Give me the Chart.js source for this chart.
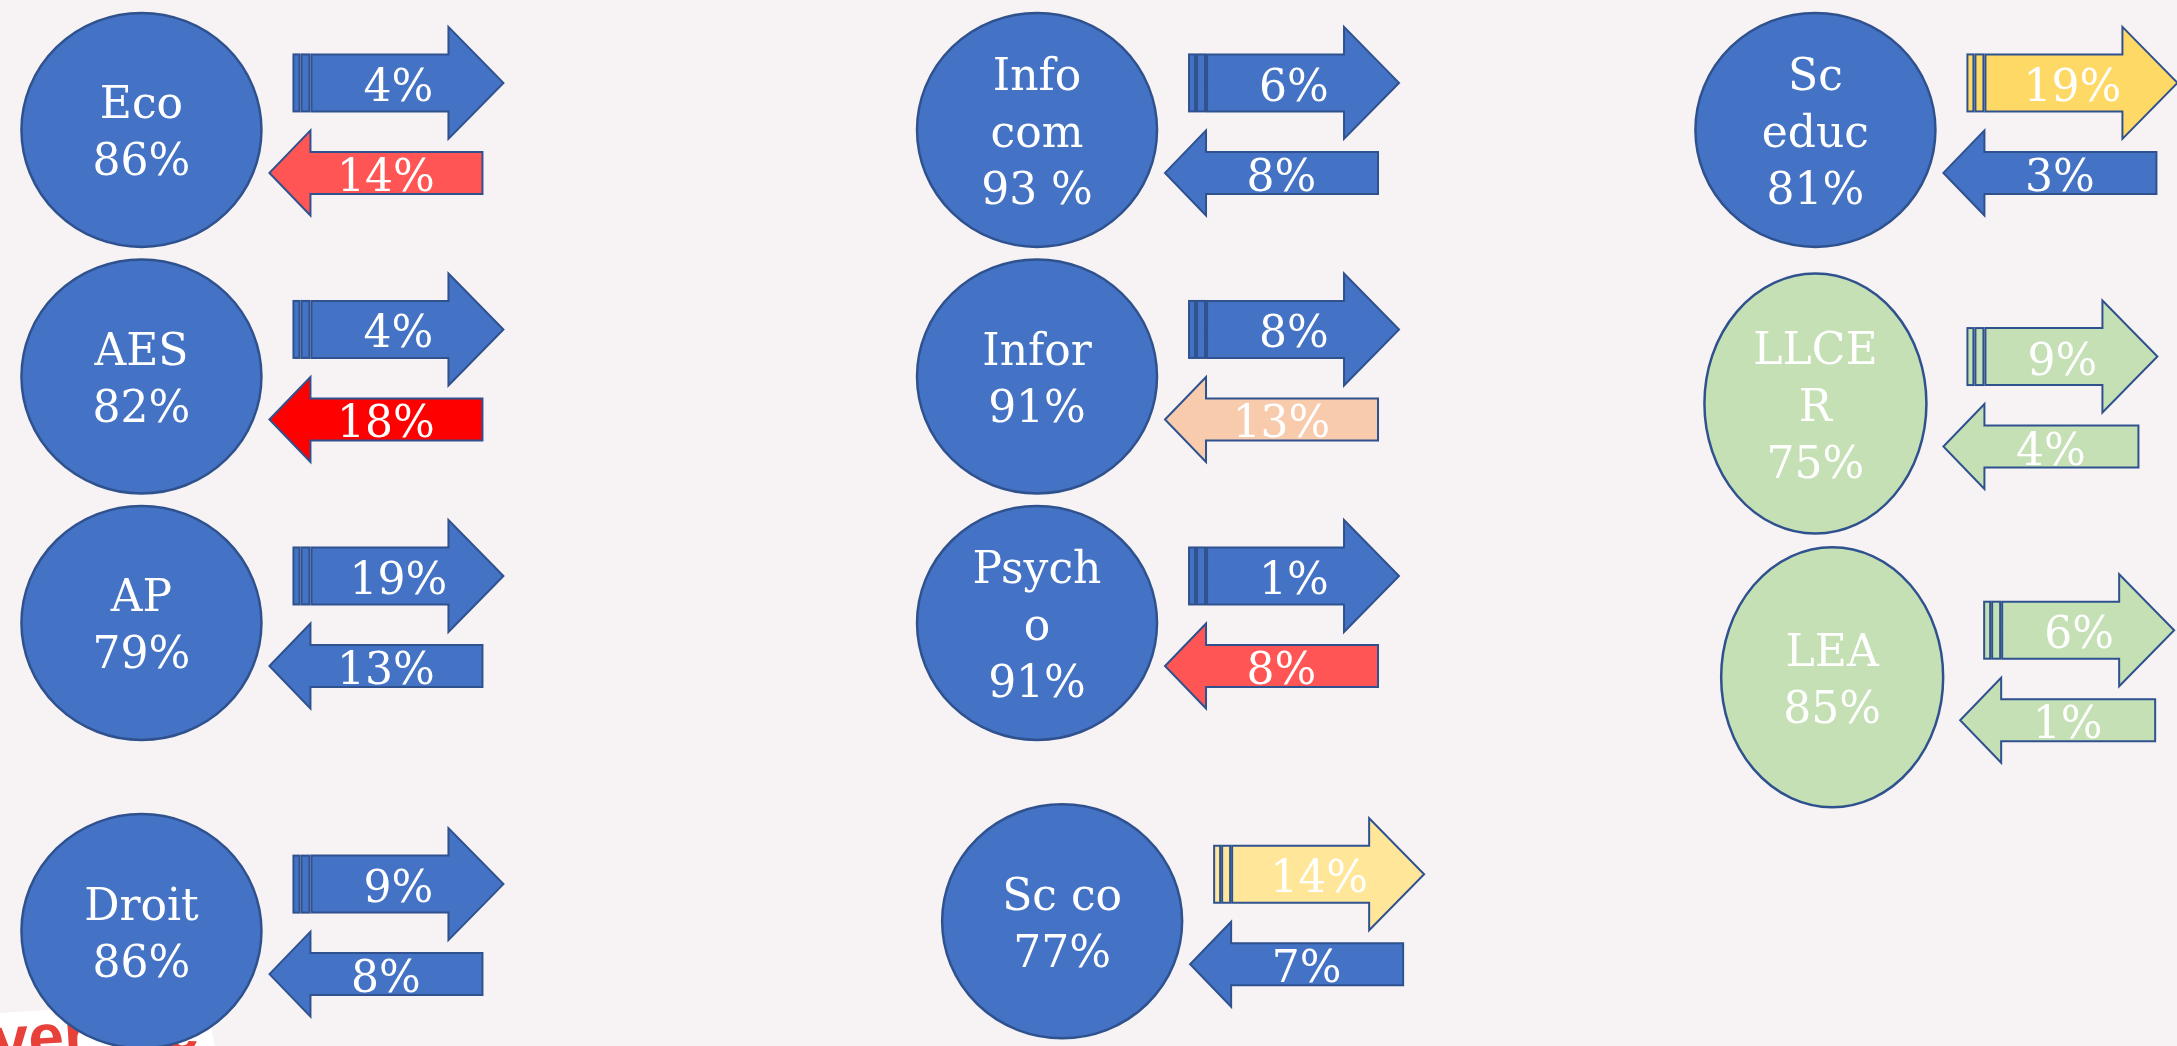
<!DOCTYPE html>
<html>
<head>
<meta charset="utf-8">
<script src="https://cdn.jsdelivr.net/npm/chart.js@4/dist/chart.umd.min.js"></script>
<style>
  html, body { margin: 0; padding: 0; background: #f7f3f4; overflow: hidden; }
  #wrap { width: 2177px; height: 1046px; position: relative; }
</style>
</head>
<body>
<div id="wrap"><canvas id="flows"></canvas></div>
<script>
"use strict";

// Programmes, as laid out on the slide (column / row slot)
var programs = ['Eco', 'AES', 'AP', 'Droit', 'Info com', 'Infor', 'Psycho', 'Sc co', 'Sc educ', 'LLCER', 'LEA'];
var circleLines = [['Eco'], ['AES'], ['AP'], ['Droit'], ['Info', 'com'], ['Infor'], ['Psych', 'o'], ['Sc co'], ['Sc', 'educ'], ['LLCE', 'R'], ['LEA']];
var stayRate = [86, 82, 79, 86, 93, 91, 91, 77, 81, 75, 85];
var outRate = [4, 4, 19, 9, 6, 8, 1, 14, 19, 9, 6];
var inRate = [14, 18, 13, 8, 8, 13, 8, 7, 3, 4, 1];
var gridCol = [0, 0, 0, 0, 1.07, 1.07, 1.07, 1.1, 2, 2, 2.02];
var gridRow = [0, 1, 2, 3.25, 0, 1, 2, 3.21, 0, 1.11, 2.22];

// Styles
var BLUE = '#4472c4', EDGE = '#2f528f';
var circleFill = [BLUE, BLUE, BLUE, BLUE, BLUE, BLUE, BLUE, BLUE, BLUE, '#c5e0b4', '#c5e0b4'];
var outFill = [BLUE, BLUE, BLUE, BLUE, BLUE, BLUE, BLUE, '#ffe699', '#ffd966', '#c5e0b4', '#c5e0b4'];
var inFill = ['#ff5555', '#ff0000', BLUE, BLUE, BLUE, '#f8cbad', '#ff5555', BLUE, BLUE, '#c5e0b4', '#c5e0b4'];
var FONT = "44px 'DejaVu Serif'";

function shapeFor(i) {
    var oval = circleFill[i] !== BLUE;
    return {
        rx: oval ? 111 : 120, ry: oval ? 130 : 117,
        outDx: 152, outDy: -47, outLen: oval ? 190 : 210, outShaft: 57, outHead: 112, outHeadLen: 55,
        inDx: 128, inDy: 43, inLen: oval ? 195 : 213, inShaft: 42, inHead: 85, inHeadLen: 41
    };
}

function label(i) {
    return stayRate[i] + (programs[i] === 'Info com' ? ' %' : '%');
}

function rightArrow(ctx, x0, yc, s, fill) {
    var sh = s.outShaft / 2, hh = s.outHead / 2;
    var body = x0 + 18, hb = x0 + s.outLen - s.outHeadLen, tip = x0 + s.outLen;
    ctx.fillStyle = fill;
    ctx.strokeStyle = EDGE;
    ctx.lineWidth = 2;
    // stripes at the tail
    ctx.fillRect(x0, yc - sh, 6, sh * 2);
    ctx.strokeRect(x0, yc - sh, 6, sh * 2);
    ctx.fillRect(x0 + 8, yc - sh, 8, sh * 2);
    ctx.strokeRect(x0 + 8, yc - sh, 8, sh * 2);
    ctx.beginPath();
    ctx.moveTo(body, yc - sh);
    ctx.lineTo(hb, yc - sh);
    ctx.lineTo(hb, yc - hh);
    ctx.lineTo(tip, yc);
    ctx.lineTo(hb, yc + hh);
    ctx.lineTo(hb, yc + sh);
    ctx.lineTo(body, yc + sh);
    ctx.closePath();
    ctx.fill();
    ctx.stroke();
}

function leftArrow(ctx, tip, yc, s, fill) {
    var sh = s.inShaft / 2, hh = s.inHead / 2;
    var hb = tip + s.inHeadLen, end = tip + s.inLen;
    ctx.fillStyle = fill;
    ctx.strokeStyle = EDGE;
    ctx.lineWidth = 2;
    ctx.beginPath();
    ctx.moveTo(tip, yc);
    ctx.lineTo(hb, yc - hh);
    ctx.lineTo(hb, yc - sh);
    ctx.lineTo(end, yc - sh);
    ctx.lineTo(end, yc + sh);
    ctx.lineTo(hb, yc + sh);
    ctx.lineTo(hb, yc + hh);
    ctx.closePath();
    ctx.fill();
    ctx.stroke();
}

function whiteText(ctx, txt, x, yMid) {
    ctx.fillStyle = '#ffffff';
    ctx.font = FONT;
    ctx.textAlign = 'center';
    ctx.textBaseline = 'alphabetic';
    ctx.fillText(txt, x, yMid + 16);
}

var slidePlugin = {
    id: 'slide',
    beforeDraw: function (chart) {
        var ctx = chart.ctx;
        ctx.save();
        ctx.fillStyle = '#f7f3f4';
        ctx.fillRect(0, 0, chart.width, chart.height);
        // corner of the university logo peeking in at the bottom left
        ctx.fillStyle = '#ffffff';
        ctx.beginPath();
        ctx.moveTo(0, 1013);
        ctx.lineTo(205, 1000);
        ctx.lineTo(215, chart.height);
        ctx.lineTo(0, chart.height);
        ctx.closePath();
        ctx.fill();
        ctx.translate(-6, 1062);
        ctx.rotate(-0.06);
        ctx.fillStyle = '#e8413a';
        ctx.font = "bold 64px 'Liberation Sans'";
        ctx.textAlign = 'left';
        ctx.fillText('versité', 0, 0);
        ctx.restore();
    },
    afterDatasetsDraw: function (chart) {
        var ctx = chart.ctx;
        var pts = chart.getDatasetMeta(0).data;
        ctx.save();
        pts.forEach(function (pt, i) {
            var s = shapeFor(i);
            var cx = pt.x, cy = pt.y;

            ctx.beginPath();
            ctx.ellipse(cx, cy, s.rx, s.ry, 0, 0, Math.PI * 2);
            ctx.fillStyle = circleFill[i];
            ctx.fill();
            ctx.lineWidth = 2.5;
            ctx.strokeStyle = EDGE;
            ctx.stroke();

            var lines = circleLines[i].concat([label(i)]);
            lines.forEach(function (t, k) {
                whiteText(ctx, t, cx, cy + 1 + (k - (lines.length - 1) / 2) * 57);
            });

            var ox = cx + s.outDx, oy = cy + s.outDy;
            rightArrow(ctx, ox, oy, s, outFill[i]);
            whiteText(ctx, outRate[i] + '%', ox + s.outLen / 2, oy + 2);

            var ix = cx + s.inDx, iy = cy + s.inDy;
            leftArrow(ctx, ix, iy, s, inFill[i]);
            whiteText(ctx, inRate[i] + '%', ix + s.inLen / 2 + 10, iy + 2);
        });
        ctx.restore();
    }
};

var points = programs.map(function (p, i) {
    return { x: gridCol[i], y: gridRow[i] };
});

var chart = new Chart(document.getElementById('flows'), {
    type: 'scatter',
    data: {
        labels: programs,
        datasets: [{
            label: 'Programmes',
            data: points,
            pointRadius: 0,
            pointHoverRadius: 0
        }]
    },
    options: {
        responsive: true,
        maintainAspectRatio: false,
        animation: false,
        devicePixelRatio: 1,
        layout: { padding: 0 },
        plugins: { legend: { display: false }, tooltip: { enabled: false } },
        scales: {
            x: { type: 'linear', display: false, min: -0.169, max: 2.432 },
            y: { type: 'linear', display: false, reverse: true, min: -0.527, max: 3.716 }
        }
    },
    plugins: [slidePlugin]
});
</script>
</body>
</html>
